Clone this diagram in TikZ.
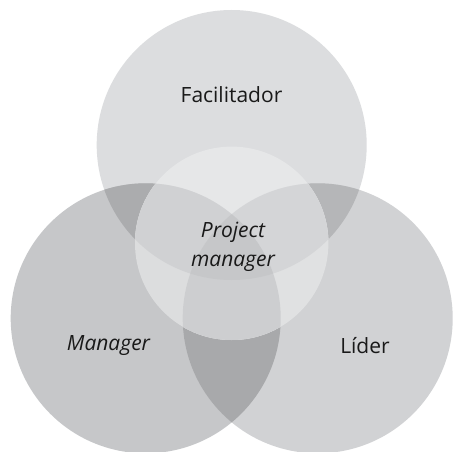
\documentclass[tikz,border=0pt]{standalone}
\usepackage{fontspec}
\setmainfont{Open Sans}
\begin{document}
\begin{tikzpicture}[x=1pt,y=-1pt,
  lbl/.style={font=\fontsize{21}{28.5}\selectfont, text=black!90, inner sep=0pt, align=center}]
\definecolor{cT}{HTML}{DCDDDF}
\definecolor{cL}{HTML}{C6C7C9}
\definecolor{cR}{HTML}{D1D2D4}
\definecolor{cTL}{HTML}{ABACAE}
\definecolor{cTR}{HTML}{B5B6B8}
\definecolor{cLR}{HTML}{A8A9AB}
\definecolor{cTLR}{HTML}{9A9B9D}
\definecolor{dT}{HTML}{E6E7E8}
\definecolor{dL}{HTML}{DCDDDE}
\definecolor{dR}{HTML}{E0E1E2}
\definecolor{dTL}{HTML}{D0D1D3}
\definecolor{dTR}{HTML}{D4D5D7}
\definecolor{dLR}{HTML}{CDCED0}
\definecolor{dTLR}{HTML}{C6C7C9}
\useasboundingbox[fill=white] (0,0) rectangle (453,452);
\def\cT{(231.7,145) circle[radius=135]}
\def\cL{(145.7,318.3) circle[radius=135]}
\def\cR{(317.7,318.3) circle[radius=135]}
\def\cC{(231.7,243.3) circle[radius=96.7]}
% base regions
\fill[cT] \cT;
\fill[cL] \cL;
\fill[cR] \cR;
\begin{scope}\clip \cT; \fill[cTL] \cL; \fill[cTR] \cR; \end{scope}
\begin{scope}\clip \cL; \fill[cLR] \cR; \end{scope}
\begin{scope}\clip \cT; \clip \cL; \fill[cTLR] \cR; \end{scope}
% central circle
\begin{scope}
  \clip \cC;
  \fill[dT] \cT;
  \fill[dL] \cL;
  \fill[dR] \cR;
  \begin{scope}\clip \cT; \fill[dTL] \cL; \fill[dTR] \cR; \end{scope}
  \begin{scope}\clip \cL; \fill[dLR] \cR; \end{scope}
  \begin{scope}\clip \cT; \clip \cL; \fill[dTLR] \cR; \end{scope}
\end{scope}
\node[lbl] (fac) at (231.5,95) {Facilitador};
\node[lbl] (pm) at (233,247) {\itshape Project\\\itshape manager};
\node[lbl] (man) at (108.5,346) {\itshape Manager};
\node[lbl] (lid) at (365,346) {Líder};
\end{tikzpicture}
\end{document}
